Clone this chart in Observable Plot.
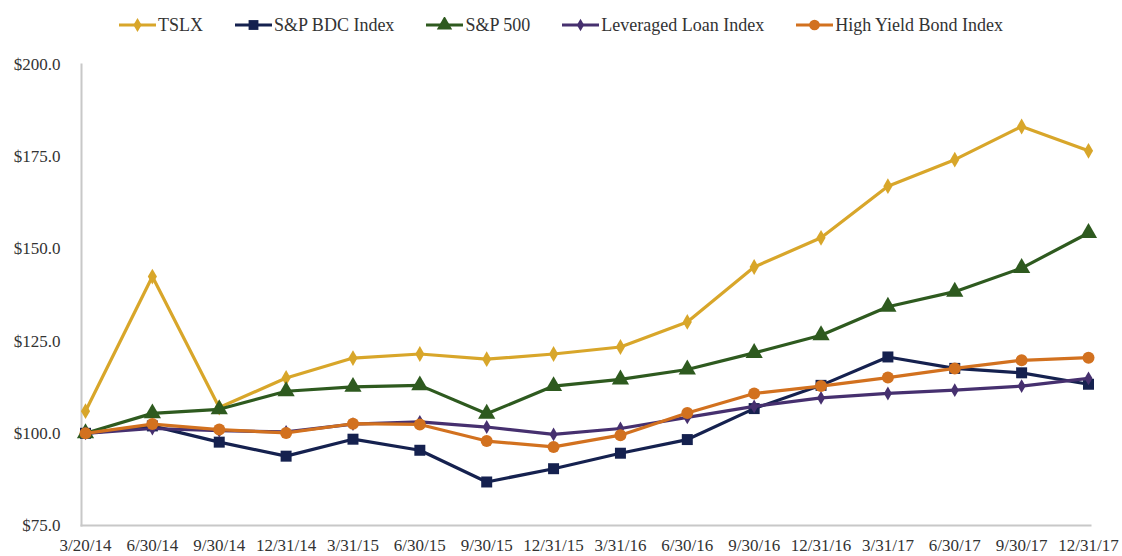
<!DOCTYPE html>
<html>
<head>
<meta charset="utf-8">
<script src="https://cdn.jsdelivr.net/npm/d3@7"></script>
<script src="https://cdn.jsdelivr.net/npm/@observablehq/plot@0.6"></script>
<style>
  html, body { margin: 0; padding: 0; background: #fff; }
  body { width: 1122px; height: 556px; overflow: hidden; font-family: "Liberation Serif", serif; }
  #legend { height: 50px; display: flex; justify-content: center; align-items: center; gap: 32px; box-sizing: border-box; color: #333; font-size: 18px; }
  .item { display: flex; align-items: center; gap: 2px; }
  .item svg { display: block; }
  #chart svg { display: block; overflow: visible; }
</style>
</head>
<body>
<div id="legend"></div>
<div id="chart"></div>
<script>
const dates = ["3/20/14","6/30/14","9/30/14","12/31/14","3/31/15","6/30/15","9/30/15","12/31/15","3/31/16","6/30/16","9/30/16","12/31/16","3/31/17","6/30/17","9/30/17","12/31/17"];
const seriesNames = ["TSLX", "S&P BDC Index", "S&P 500", "Leveraged Loan Index", "High Yield Bond Index"];
const tslx  = [106, 142.5, 107, 115, 120.4, 121.5, 120.1, 121.5, 123.4, 130.2, 145.1, 153, 167, 174.2, 183.2, 176.6];
const bdc   = [100, 102, 97.6, 93.8, 98.4, 95.4, 86.8, 90.4, 94.6, 98.3, 106.7, 113, 120.7, 117.6, 116.4, 113.3];
const sp500 = [100, 105.4, 106.5, 111.4, 112.6, 113, 105.3, 112.8, 114.6, 117.3, 121.8, 126.6, 134.3, 138.4, 144.8, 154.3];
const lli   = [100, 101.3, 100.7, 100.4, 102.5, 103.1, 101.7, 99.7, 101.3, 104.3, 107.3, 109.6, 110.8, 111.7, 112.8, 114.9];
const hy    = [100, 102.5, 101, 100.1, 102.6, 102.4, 97.9, 96.3, 99.5, 105.5, 110.8, 112.8, 115.1, 117.6, 119.8, 120.5];
const yTicks = [75, 100, 125, 150, 175, 200];

const colors = ["#D8A62A", "#15214F", "#2E5A1F", "#46306F", "#D2711F"];
const symbols = ["diamond", "square", "triangle", "diamond", "circle"];
const radii = [4.8, 6.2, 6.4, 4.2, 6.0];
const values = [tslx, bdc, sp500, lli, hy];

const data = [];
seriesNames.forEach((s, k) => values[k].forEach((v, i) => data.push({series: s, idx: i, date: dates[i], value: v, k})));

// legend
const legend = document.getElementById("legend");
seriesNames.forEach((s, k) => {
  const item = document.createElement("div");
  item.className = "item";
  const sym = d3.symbol().type({diamond: d3.symbolDiamond, square: d3.symbolSquare, triangle: d3.symbolTriangle, circle: d3.symbolCircle}[symbols[k]]).size(Math.PI * radii[k] * radii[k] * 0.8)();
  item.innerHTML = `<svg width="37" height="16"><line x1="0" x2="37" y1="8" y2="8" stroke="${colors[k]}" stroke-width="3.2"/><path d="${sym}" transform="translate(18.5,8)" fill="${colors[k]}"/></svg><span>${s.replace(/&/g, "&amp;")}</span>`;
  legend.appendChild(item);
});

const marks = [
  Plot.frame({anchor: "left", stroke: "#C8C8C8", strokeWidth: 2}),
  Plot.frame({anchor: "bottom", stroke: "#C8C8C8", strokeWidth: 2}),
  Plot.axisY(yTicks, {tickSize: 0, tickPadding: 21, tickFormat: d => "$" + d.toFixed(1), fontSize: 17, fill: "#333"}),
  Plot.axisX(d3.range(dates.length), {tickSize: 0, tickPadding: 13, tickFormat: i => dates[i], fontSize: 17, fill: "#333"})
];
seriesNames.forEach((s, k) => {
  const d = data.filter(r => r.k === k);
  marks.push(Plot.line(d, {x: "idx", y: "value", stroke: colors[k], strokeWidth: 3.2}));
  marks.push(Plot.dot(d, {x: "idx", y: "value", fill: colors[k], symbol: symbols[k], r: radii[k]}));
});

const chart = Plot.plot({
  width: 1122,
  height: 506,
  marginTop: 14,
  marginBottom: 31,
  marginLeft: 81,
  marginRight: 32,
  style: {fontFamily: "Liberation Serif, serif", background: "#fff"},
  x: {domain: [-0.06, dates.length - 1 + 0.03], label: null},
  y: {domain: [75, 200], label: null},
  marks
});
document.getElementById("chart").appendChild(chart);
</script>
</body>
</html>
